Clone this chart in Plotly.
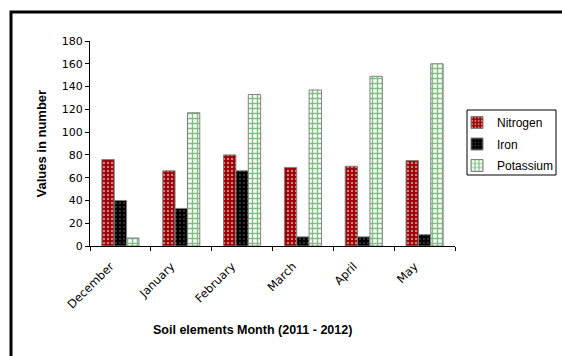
import plotly.graph_objects as go

months = ["December", "January", "February", "March", "April", "May"]
nitrogen = [76, 66, 80, 69, 70, 75]
iron = [40, 33, 66, 8, 8, 10]
potassium = [7, 117, 133, 137, 149, 160]

W, H = 562, 356
L, R, T, B = 90, 107, 41, 110
pw, ph = W - L - R, H - T - B

def px(x):
    return (x - L) / pw

def py(y):
    return (H - B - y) / ph

fig = go.Figure()
fig.add_bar(name="Nitrogen", x=months, y=nitrogen, legendgroup="n",
            marker=dict(color="#990000", line=dict(color="#808080", width=1),
                        pattern=dict(shape=".", fgcolor="#ffffff", bgcolor="#990000",
                                     size=4, solidity=0.3, fillmode="overlay")))
fig.add_bar(name="Iron", x=months, y=iron, legendgroup="i",
            marker=dict(color="#000000", line=dict(color="#808080", width=1),
                        pattern=dict(shape=".", fgcolor="#ffffff", bgcolor="#000000",
                                     size=4, solidity=0.1, fillmode="overlay")))
fig.add_bar(name="Potassium", x=months, y=potassium, legendgroup="k",
            marker=dict(color="#ffffff", line=dict(color="#808080", width=1),
                        pattern=dict(shape="+", fgcolor="#008000", bgcolor="#ffffff",
                                     size=5, solidity=0.5, fillmode="overlay")))

fig.update_layout(
    width=W, height=H,
    margin=dict(l=L, r=R, t=T, b=B, autoexpand=False),
    paper_bgcolor="white", plot_bgcolor="white",
    barmode="group", bargap=0.39, bargroupgap=0,
    font=dict(family="DejaVu Sans, Arial, sans-serif", size=11, color="black"),
    showlegend=True,
    legend=dict(x=px(457), y=py(108), xanchor="left", yanchor="top",
                borderwidth=0, bgcolor="rgba(0,0,0,0)",
                font=dict(family="Arial, Liberation Sans, sans-serif", size=12),
                itemwidth=30, tracegroupgap=2.5),
    xaxis=dict(showline=True, linecolor="black", linewidth=1, ticks="outside",
               ticklen=4, tickcolor="black", tickson="boundaries", tickangle=-45,
               tickfont=dict(size=11.5), ticklabelshift=-10, ticklabelstandoff=8,
               showgrid=False, automargin=False),
    yaxis=dict(range=[0, 180], dtick=20, showline=True, linecolor="black", linewidth=1,
               ticks="outside", ticklen=4, tickcolor="black", showgrid=False,
               zeroline=False, automargin=False),
    annotations=[
        dict(text="<b>Values in number</b>", xref="paper", yref="paper",
             x=px(41), y=0.5, textangle=-90, showarrow=False,
             xanchor="center", yanchor="middle",
             font=dict(family="Arial, Liberation Sans, sans-serif", size=13)),
        dict(text="<b>Soil elements Month (2011 - 2012)</b>", xref="paper", yref="paper",
             x=px(252), y=py(330), showarrow=False,
             xanchor="center", yanchor="middle",
             font=dict(family="Arial, Liberation Sans, sans-serif", size=12.5)),
    ],
    shapes=[
        dict(type="path", xref="paper", yref="paper",
             path=f"M {px(600)} {py(12)} L {px(11)} {py(12)} L {px(11)} {py(400)}",
             line=dict(color="black", width=3)),
        dict(type="rect", xref="paper", yref="paper",
             x0=px(467), x1=px(556), y0=py(110), y1=py(175),
             line=dict(color="black", width=1)),
    ],
)

fig.write_html("out.html")
